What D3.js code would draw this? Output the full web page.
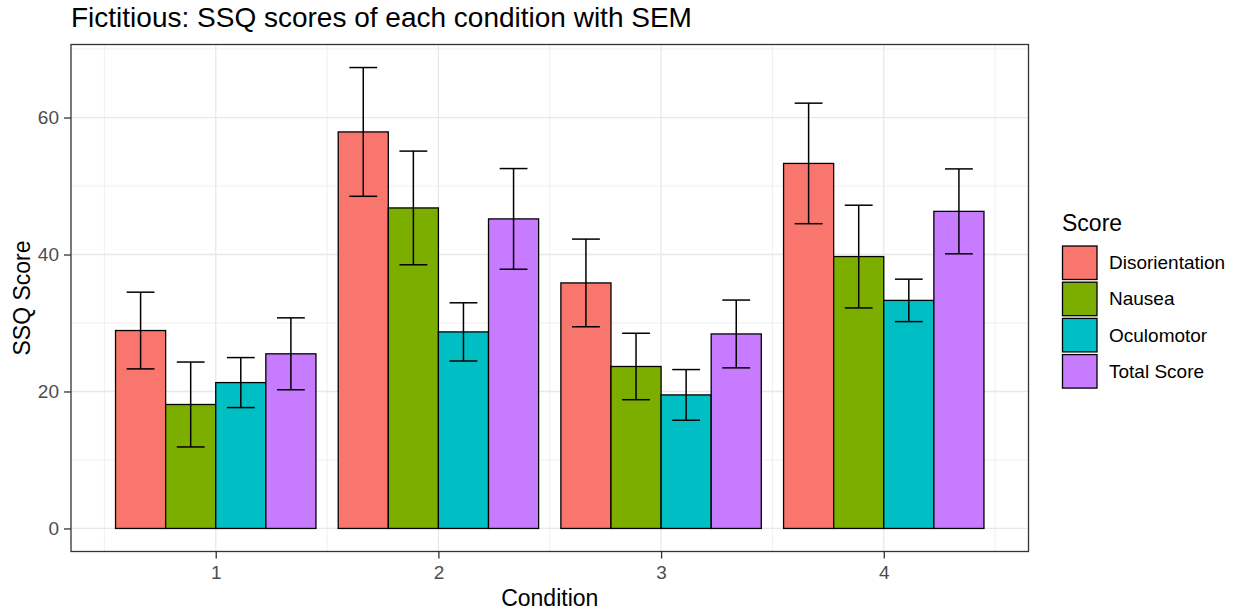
<!DOCTYPE html>
<html>
<head>
<meta charset="utf-8">
<script src="https://cdn.jsdelivr.net/npm/d3@7"></script>
<style>
  body { margin: 0; background: #fff; }
  svg { font-family: "Liberation Sans", Arial, sans-serif; }
</style>
</head>
<body>
<svg id="chart" width="1240" height="611"></svg>
<script>
// data
let conditions = [1, 2, 3, 4];
let scoreTypes = ["Disorientation", "Nausea", "Oculomotor", "Total Score"];
let disorientationMean = [28.9, 57.9, 35.85, 53.3];
let nauseaMean = [18.1, 46.8, 23.65, 39.7];
let oculomotorMean = [21.3, 28.7, 19.5, 33.3];
let totalMean = [25.5, 45.2, 28.4, 46.3];
let disorientationSem = [5.6, 9.4, 6.4, 8.8];
let nauseaSem = [6.2, 8.3, 4.85, 7.5];
let oculomotorSem = [3.65, 4.25, 3.7, 3.1];
let totalSem = [5.25, 7.35, 4.95, 6.2];
let yTicks = [0, 20, 40, 60];

let means = [disorientationMean, nauseaMean, oculomotorMean, totalMean];
let sems = [disorientationSem, nauseaSem, oculomotorSem, totalSem];
let colors = ["#F8766D", "#7CAE00", "#00BFC4", "#C77CFF"];

// flat table, one row per bar
let rows = [];
conditions.forEach(function (c, i) {
  scoreTypes.forEach(function (s, j) {
    rows.push({ cond: c, type: s, k: j, mean: means[j][i], sem: sems[j][i] });
  });
});

let svg = d3.select("#chart");
let panel = { left: 71, right: 1028.5, top: 44.5, bottom: 551.5 };

let xScale = d3.scaleLinear().domain([0.35, 4.65]).range([panel.left, panel.right]);

// ggplot style 5% expansion around 0..max(mean+sem)
let yMax = d3.max(rows, function (d) { return d.mean + d.sem; });
let pad = yMax * 0.05;
let yScale = d3.scaleLinear().domain([-pad, yMax + pad]).range([panel.bottom, panel.top]);

let barW = 0.9 / scoreTypes.length; // dodged bar width in x units
let capW = 0.5 / scoreTypes.length;
function barCenter(d) {
  return d.cond + (d.k - (scoreTypes.length - 1) / 2) * barW;
}

// grid lines
let grid = svg.append("g");
let yMinor = [10, 30, 50, 70];
let xMinor = [0.5, 1.5, 2.5, 3.5, 4.5];
grid.selectAll(".yminor").data(yMinor).enter().append("line")
  .attr("x1", panel.left).attr("x2", panel.right)
  .attr("y1", function (d) { return yScale(d); })
  .attr("y2", function (d) { return yScale(d); })
  .style("stroke", "#EBEBEB").style("stroke-width", 0.8);
grid.selectAll(".xminor").data(xMinor).enter().append("line")
  .attr("y1", panel.top).attr("y2", panel.bottom)
  .attr("x1", function (d) { return xScale(d); })
  .attr("x2", function (d) { return xScale(d); })
  .style("stroke", "#EBEBEB").style("stroke-width", 0.8);
grid.selectAll(".ymajor").data(yTicks).enter().append("line")
  .attr("x1", panel.left).attr("x2", panel.right)
  .attr("y1", function (d) { return yScale(d); })
  .attr("y2", function (d) { return yScale(d); })
  .style("stroke", "#E8E8E8").style("stroke-width", 1.3);
grid.selectAll(".xmajor").data(conditions).enter().append("line")
  .attr("y1", panel.top).attr("y2", panel.bottom)
  .attr("x1", function (d) { return xScale(d); })
  .attr("x2", function (d) { return xScale(d); })
  .style("stroke", "#E8E8E8").style("stroke-width", 1.3);

// bars
svg.selectAll(".bar").data(rows).enter().append("rect")
  .attr("class", "bar")
  .attr("x", function (d) { return xScale(barCenter(d) - barW / 2); })
  .attr("width", function () { return xScale(barW) - xScale(0); })
  .attr("y", function (d) { return yScale(d.mean); })
  .attr("height", function (d) { return yScale(0) - yScale(d.mean); })
  .style("fill", function (d) { return colors[d.k]; })
  .style("stroke", "#000").style("stroke-width", 1.3);

// error bars
let err = svg.selectAll(".err").data(rows).enter().append("g").attr("class", "err")
  .style("stroke", "#000").style("stroke-width", 1.5);
err.append("line")
  .attr("x1", function (d) { return xScale(barCenter(d)); })
  .attr("x2", function (d) { return xScale(barCenter(d)); })
  .attr("y1", function (d) { return yScale(d.mean + d.sem); })
  .attr("y2", function (d) { return yScale(d.mean - d.sem); });
[1, -1].forEach(function (sign) {
  err.append("line")
    .attr("x1", function (d) { return xScale(barCenter(d) - capW / 2); })
    .attr("x2", function (d) { return xScale(barCenter(d) + capW / 2); })
    .attr("y1", function (d) { return yScale(d.mean + sign * d.sem); })
    .attr("y2", function (d) { return yScale(d.mean + sign * d.sem); });
});

// panel border
svg.append("rect")
  .attr("x", panel.left).attr("y", panel.top)
  .attr("width", panel.right - panel.left).attr("height", panel.bottom - panel.top)
  .style("fill", "none").style("stroke", "#333").style("stroke-width", 1.3);

// axes
let yAxis = d3.axisLeft(yScale).tickValues(yTicks).tickSize(7).tickPadding(5);
let xAxis = d3.axisBottom(xScale).tickValues(conditions).tickFormat(d3.format("d"))
  .tickSize(7).tickPadding(7);
let gy = svg.append("g").attr("transform", `translate(${panel.left},0)`).call(yAxis);
let gx = svg.append("g").attr("transform", `translate(0,${panel.bottom})`).call(xAxis);
[gx, gy].forEach(function (g) {
  g.select(".domain").remove();
  g.selectAll("line").style("stroke", "#333").style("stroke-width", 1.3);
  g.selectAll("text").style("fill", "#4D4D4D").style("font-size", "19px")
    .style("font-family", "'Liberation Sans', Arial, sans-serif");
});

// titles
svg.append("text").attr("x", 71).attr("y", 27)
  .style("font-size", "28px").style("fill", "#000")
  .text("Fictitious: SSQ scores of each condition with SEM");
svg.append("text").attr("x", (panel.left + panel.right) / 2).attr("y", 606)
  .attr("text-anchor", "middle").style("font-size", "23px").text("Condition");
svg.append("text")
  .attr("transform", `translate(30,${(panel.top + panel.bottom) / 2}) rotate(-90)`)
  .attr("text-anchor", "middle").style("font-size", "23px").text("SSQ Score");

// legend
let legend = svg.append("g").attr("transform", "translate(1062,0)");
legend.append("text").attr("x", 0).attr("y", 231)
  .style("font-size", "23px").text("Score");
let items = legend.selectAll(".item").data(scoreTypes).enter().append("g")
  .attr("transform", function (d, i) { return `translate(0,${245.5 + i * 36.2})`; });
items.append("rect")
  .attr("x", 0.5).attr("y", 0.5).attr("width", 34.5).attr("height", 33.5)
  .style("fill", function (d, i) { return colors[i]; })
  .style("stroke", "#000").style("stroke-width", 1.3);
items.append("text").attr("x", 47).attr("y", 17).attr("dy", "0.35em")
  .style("font-size", "19px").style("fill", "#000").text(function (d) { return d; });
</script>
</body>
</html>
